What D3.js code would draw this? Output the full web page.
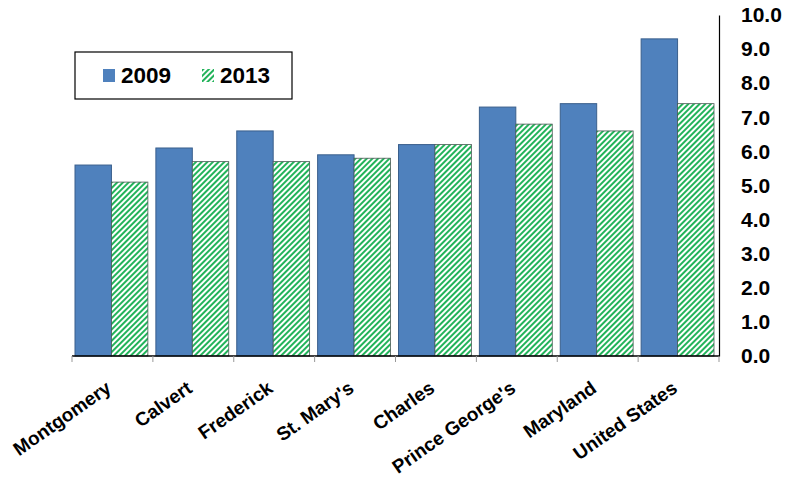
<!DOCTYPE html>
<html>
<head>
<meta charset="utf-8">
<script src="https://cdn.jsdelivr.net/npm/d3@7"></script>
<style>
  body { margin: 0; background: #fff; }
  text { font-family: Arial, "Liberation Sans", sans-serif; font-weight: bold; }
</style>
</head>
<body>
<div id="chart"></div>
<script>
const categories = ["Montgomery", "Calvert", "Frederick", "St. Mary's", "Charles", "Prince George's", "Maryland", "United States"];
const values2009 = [5.6, 6.1, 6.6, 5.9, 6.2, 7.3, 7.4, 9.3];
const values2013 = [5.1, 5.7, 5.7, 5.8, 6.2, 6.8, 6.6, 7.4];
const seriesNames = ["2009", "2013"];
const yTicks = [0, 1, 2, 3, 4, 5, 6, 7, 8, 9, 10];

const width = 797;
const height = 479;
const margin = { left: 72, right: 78, top: 15, bottom: 123 };

const svg = d3.select("#chart")
  .append("svg")
  .attr("width", width)
  .attr("height", height);

const defs = svg.append("defs");
const pat = defs.append("pattern")
  .attr("id", "hatch")
  .attr("patternUnits", "userSpaceOnUse")
  .attr("width", 4)
  .attr("height", 4)
  .attr("patternTransform", "rotate(45)");
pat.append("rect").attr("width", 4).attr("height", 4).attr("fill", "#fff");
pat.append("rect").attr("width", 2).attr("height", 4).attr("fill", "#22b35a");

const x = d3.scaleBand()
  .domain(categories)
  .range([margin.left, width - margin.right])
  .paddingInner(0)
  .paddingOuter(0);

const inner = d3.scaleBand()
  .domain(seriesNames)
  .range([3, x.bandwidth() - 5]);

const y = d3.scaleLinear()
  .domain([0, 10])
  .range([height - margin.bottom, margin.top]);

const rows = categories.map((c, i) => ({ cat: c, v: [values2009[i], values2013[i]] }));

const g = svg.selectAll("g.cat")
  .data(rows)
  .join("g")
  .attr("class", "cat")
  .attr("transform", d => `translate(${x(d.cat)},0)`);

g.append("rect")
  .attr("x", inner("2009"))
  .attr("y", d => y(d.v[0]))
  .attr("width", inner.bandwidth())
  .attr("height", d => y(0) - y(d.v[0]))
  .attr("fill", "#4f81bd")
  .attr("stroke", "#3a5f8c")
  .attr("stroke-width", 1);

g.append("rect")
  .attr("x", inner("2013"))
  .attr("y", d => y(d.v[1]))
  .attr("width", inner.bandwidth())
  .attr("height", d => y(0) - y(d.v[1]))
  .attr("fill", "url(#hatch)")
  .attr("stroke", "#4a5a55")
  .attr("stroke-width", 0.8);

// bottom axis
const xAxis = svg.append("g")
  .attr("transform", `translate(0,${y(0)})`);
xAxis.append("line")
  .attr("x1", margin.left).attr("x2", width - margin.right)
  .attr("stroke", "#000").attr("stroke-width", 1.5);
const bounds = categories.map(c => x(c)).concat([width - margin.right]);
xAxis.selectAll("line.tk")
  .data(bounds)
  .join("line")
  .attr("class", "tk")
  .attr("x1", d => d).attr("x2", d => d)
  .attr("y1", 0).attr("y2", 6)
  .attr("stroke", "#999");

xAxis.selectAll("text")
  .data(categories)
  .join("text")
  .attr("transform", d => `translate(${x(d) + x.bandwidth() / 2},${35}) rotate(-35)`)
  .attr("text-anchor", "end")
  .attr("font-size", 19)
  .attr("fill", "#000")
  .text(d => d);

// right axis
const yAxis = svg.append("g")
  .attr("transform", `translate(${width - margin.right},0)`)
  .call(d3.axisRight(y).tickValues(yTicks).tickSize(0).tickPadding(22).tickFormat(d3.format(".1f")));
yAxis.select(".domain").attr("stroke", "#000").attr("stroke-width", 1.2);
yAxis.selectAll("text")
  .attr("font-size", 21)
  .attr("font-family", "Arial, 'Liberation Sans', sans-serif")
  .attr("fill", "#000");

// legend
const legend = svg.append("g");
legend.append("rect")
  .attr("x", 75).attr("y", 52)
  .attr("width", 217).attr("height", 47)
  .attr("fill", "#fff")
  .attr("stroke", "#000")
  .attr("stroke-width", 1.2);
const items = legend.selectAll("g.item")
  .data(seriesNames)
  .join("g")
  .attr("class", "item")
  .attr("transform", (d, i) => `translate(${103 + i * 99},69)`);
items.append("rect")
  .attr("width", 12).attr("height", 13)
  .attr("fill", (d, i) => i === 0 ? "#4f81bd" : "url(#hatch)");
items.append("text")
  .attr("x", 18).attr("y", 14)
  .attr("font-size", 22.5)
  .text(d => d);
</script>
</body>
</html>
